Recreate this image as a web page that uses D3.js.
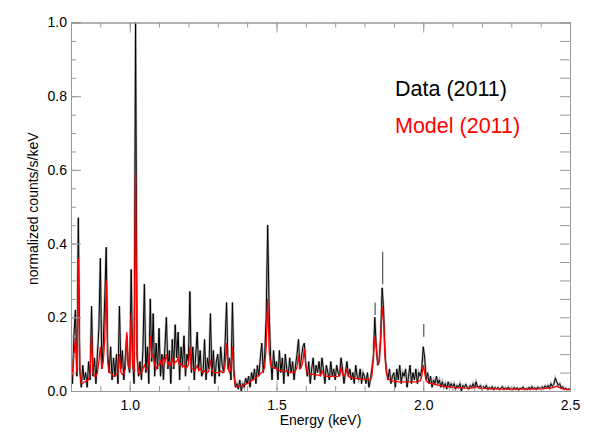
<!DOCTYPE html>
<html>
<head>
<meta charset="utf-8">
<script src="https://cdn.jsdelivr.net/npm/d3@7"></script>
<style>
  body { margin: 0; background: #fff; }
  svg { display: block; font-family: "Liberation Sans", Arial, Helvetica, sans-serif; }
</style>
</head>
<body>
<svg class="stage" width="592" height="437"></svg>
<script>
// spectral bins: 0.800 .. 2.500 keV, 0.005 keV wide
var binStart = 0.8;
var binWidth = 0.005;

// observed spectrum (normalized counts/s/keV), 10 bins per row
var dataValues = [
  0.08, 0.02, 0.15, 0.22, 0.04, 0.47, 0.06, 0.01, 0.07, 0.03,
  0.05, 0.01, 0.08, 0.03, 0.23, 0.04, 0.09, 0.02, 0.10, 0.17,
  0.36, 0.06, 0.13, 0.25, 0.39, 0.10, 0.05, 0.12, 0.03, 0.09,
  0.04, 0.10, 0.02, 0.23, 0.06, 0.11, 0.03, 0.09, 0.15, 0.07,
  0.05, 0.33, 0.08, 0.02, 1.00, 0.10, 0.04, 0.08, 0.03, 0.11,
  0.29, 0.05, 0.12, 0.02, 0.25, 0.08, 0.21, 0.04, 0.13, 0.06,
  0.17, 0.04, 0.10, 0.03, 0.12, 0.20, 0.06, 0.11, 0.02, 0.14,
  0.06, 0.18, 0.09, 0.16, 0.03, 0.12, 0.07, 0.15, 0.04, 0.10,
  0.08, 0.27, 0.05, 0.12, 0.03, 0.10, 0.16, 0.06, 0.11, 0.04,
  0.05, 0.14, 0.03, 0.09, 0.06, 0.21, 0.04, 0.11, 0.02, 0.08,
  0.10, 0.04, 0.12, 0.07, 0.05, 0.13, 0.24, 0.06, 0.09, 0.03,
  0.24, 0.06, 0.01, 0.02, 0.005, 0.03, 0.00, 0.02, 0.01, 0.035,
  0.02, 0.04, 0.01, 0.05, 0.03, 0.06, 0.02, 0.07, 0.04, 0.09,
  0.13, 0.05, 0.10, 0.20, 0.45, 0.22, 0.09, 0.03, 0.11, 0.06,
  0.08, 0.03, 0.11, 0.05, 0.09, 0.02, 0.10, 0.06, 0.04, 0.09,
  0.05, 0.08, 0.03, 0.07, 0.10, 0.14, 0.06, 0.09, 0.12, 0.13,
  0.07, 0.04, 0.08, 0.02, 0.06, 0.09, 0.03, 0.07, 0.05, 0.08,
  0.04, 0.09, 0.06, 0.02, 0.07, 0.05, 0.03, 0.08, 0.04, 0.06,
  0.03, 0.07, 0.05, 0.04, 0.09, 0.06, 0.02, 0.05, 0.08, 0.04,
  0.06, 0.03, 0.05, 0.02, 0.07, 0.04, 0.03, 0.06, 0.02, 0.05,
  0.04, 0.02, 0.05, 0.01, 0.03, 0.06, 0.09, 0.20, 0.12, 0.07,
  0.08, 0.15, 0.28, 0.22, 0.10, 0.05, 0.03, 0.06, 0.02, 0.04,
  0.05, 0.01, 0.06, 0.03, 0.07, 0.02, 0.05, 0.04, 0.06, 0.01,
  0.04, 0.07, 0.02, 0.05, 0.03, 0.06, 0.02, 0.05, 0.04, 0.06,
  0.12, 0.09, 0.03, 0.05, 0.02, 0.04, 0.01, 0.03, 0.02, 0.04,
  0.02, 0.03, 0.01, 0.025, 0.01, 0.02, 0.005, 0.025, 0.01, 0.02,
  0.01, 0.02, 0.005, 0.015, 0.01, 0.02, 0.00, 0.015, 0.01, 0.018,
  0.01, 0.005, 0.015, 0.01, 0.02, 0.008, 0.025, 0.012, 0.01, 0.015,
  0.005, 0.012, 0.008, 0.015, 0.004, 0.01, 0.006, 0.012, 0.003, 0.01,
  0.006, 0.01, 0.003, 0.008, 0.012, 0.004, 0.009, 0.005, 0.011, 0.004,
  0.008, 0.003, 0.01, 0.005, 0.009, 0.002, 0.008, 0.006, 0.011, 0.004,
  0.007, 0.004, 0.01, 0.005, 0.012, 0.006, 0.009, 0.004, 0.011, 0.007,
  0.008, 0.012, 0.006, 0.014, 0.009, 0.015, 0.007, 0.02, 0.012, 0.018,
  0.035, 0.025, 0.015, 0.02, 0.008, 0.012, 0.005, 0.008, 0.004, 0.006,
  0.004
];

// fitted model on the same bins
var modelValues = [
  0.03, 0.05, 0.10, 0.14, 0.05, 0.36, 0.05, 0.02, 0.02, 0.025,
  0.025, 0.03, 0.03, 0.05, 0.15, 0.05, 0.04, 0.04, 0.05, 0.08,
  0.12, 0.06, 0.08, 0.14, 0.30, 0.08, 0.05, 0.05, 0.045, 0.04,
  0.04, 0.045, 0.05, 0.10, 0.05, 0.045, 0.05, 0.06, 0.16, 0.07,
  0.06, 0.21, 0.07, 0.05, 0.59, 0.09, 0.05, 0.045, 0.05, 0.06,
  0.07, 0.06, 0.06, 0.08, 0.15, 0.09, 0.10, 0.07, 0.06, 0.07,
  0.07, 0.08, 0.07, 0.09, 0.08, 0.10, 0.07, 0.08, 0.07, 0.09,
  0.07, 0.08, 0.08, 0.09, 0.07, 0.075, 0.065, 0.07, 0.06, 0.065,
  0.07, 0.12, 0.06, 0.06, 0.055, 0.06, 0.07, 0.055, 0.06, 0.055,
  0.05, 0.055, 0.05, 0.05, 0.055, 0.085, 0.055, 0.05, 0.05, 0.05,
  0.05, 0.05, 0.055, 0.05, 0.05, 0.07, 0.13, 0.06, 0.05, 0.06,
  0.12, 0.04, 0.015, 0.012, 0.012, 0.013, 0.014, 0.015, 0.016, 0.018,
  0.02, 0.022, 0.025, 0.028, 0.03, 0.033, 0.036, 0.04, 0.043, 0.047,
  0.05, 0.055, 0.065, 0.12, 0.25, 0.11, 0.07, 0.065, 0.063, 0.062,
  0.06, 0.058, 0.056, 0.055, 0.056, 0.054, 0.053, 0.055, 0.052, 0.05,
  0.05, 0.05, 0.05, 0.055, 0.065, 0.097, 0.06, 0.065, 0.08, 0.114,
  0.07, 0.05, 0.047, 0.046, 0.045, 0.045, 0.044, 0.044, 0.043, 0.043,
  0.043, 0.055, 0.045, 0.041, 0.04, 0.04, 0.04, 0.039, 0.04, 0.041,
  0.04, 0.039, 0.04, 0.045, 0.066, 0.045, 0.04, 0.045, 0.06, 0.04,
  0.037, 0.036, 0.035, 0.035, 0.034, 0.034, 0.033, 0.033, 0.033, 0.032,
  0.032, 0.031, 0.031, 0.031, 0.031, 0.04, 0.09, 0.147, 0.12, 0.075,
  0.08, 0.14, 0.229, 0.19, 0.09, 0.05, 0.035, 0.03, 0.028, 0.027,
  0.027, 0.026, 0.026, 0.025, 0.025, 0.025, 0.025, 0.025, 0.025, 0.025,
  0.025, 0.025, 0.025, 0.025, 0.025, 0.025, 0.025, 0.026, 0.028, 0.04,
  0.07, 0.05, 0.028, 0.024, 0.022, 0.021, 0.02, 0.019, 0.018, 0.017,
  0.016, 0.015, 0.014, 0.013, 0.013, 0.012, 0.012, 0.011, 0.011, 0.01,
  0.01, 0.01, 0.009, 0.009, 0.009, 0.009, 0.009, 0.008, 0.008, 0.008,
  0.008, 0.008, 0.008, 0.008, 0.009, 0.01, 0.013, 0.01, 0.008, 0.007,
  0.007, 0.007, 0.007, 0.007, 0.006, 0.006, 0.006, 0.006, 0.006, 0.006,
  0.006, 0.006, 0.005, 0.005, 0.005, 0.005, 0.005, 0.005, 0.005, 0.005,
  0.005, 0.005, 0.005, 0.005, 0.005, 0.005, 0.005, 0.005, 0.005, 0.005,
  0.005, 0.005, 0.005, 0.005, 0.005, 0.005, 0.006, 0.006, 0.006, 0.006,
  0.006, 0.006, 0.007, 0.007, 0.007, 0.008, 0.008, 0.008, 0.009, 0.01,
  0.012, 0.013, 0.011, 0.009, 0.007, 0.006, 0.005, 0.005, 0.004, 0.004,
  0.004
];

// error bar tops that stand apart from the data line: [keV, low, high]
var errorDashes = [
  [1.836, 0.206, 0.240],
  [1.862, 0.290, 0.378],
  [2.002, 0.147, 0.182]
];

var xMajorTicks = [1.0, 1.5, 2.0, 2.5];
var yMajorTicks = [0.0, 0.2, 0.4, 0.6, 0.8, 1.0];
var legendLabels = ['Data (2011)', 'Model (2011)'];
var legendColors = ['#000', '#f00'];

var svg = d3.select('svg.stage');
var margin = { left: 71, right: 22, top: 22.5, bottom: 46 };
var width = +svg.attr('width');
var height = +svg.attr('height');
var innerW = width - margin.left - margin.right;
var innerH = height - margin.top - margin.bottom;

var x = d3.scaleLinear().domain([0.8, 2.5]).range([0, innerW]);
var y = d3.scaleLinear().domain([0, 1]).range([innerH, 0]);

function energyOf(i) {
  return binStart + binWidth * i;
}

svg.append('rect')
  .attr('width', width)
  .attr('height', height)
  .attr('fill', '#fff');

var g = svg.append('g')
  .attr('transform', 'translate(' + margin.left + ',' + margin.top + ')');

g.append('clipPath')
  .attr('id', 'plotClip')
  .append('rect')
  .attr('x', 0)
  .attr('y', -1)
  .attr('width', innerW)
  .attr('height', innerH + 1);

var plot = g.append('g').attr('clip-path', 'url(#plotClip)');

var line = d3.line()
  .x(function (d, i) { return x(energyOf(i)); })
  .y(function (d) { return y(d); });

// data: grey halo (error bar look) then black line
plot.append('path')
  .datum(dataValues)
  .attr('fill', 'none')
  .attr('stroke', '#888')
  .attr('stroke-width', 2.4)
  .attr('stroke-opacity', 0.6)
  .attr('d', line);

plot.append('path')
  .datum(dataValues)
  .attr('fill', 'none')
  .attr('stroke', '#000')
  .attr('stroke-width', 1)
  .attr('d', line);

plot.selectAll('line.dash')
  .data(errorDashes)
  .enter().append('line')
  .attr('class', 'dash')
  .attr('x1', function (d) { return x(d[0]); })
  .attr('x2', function (d) { return x(d[0]); })
  .attr('y1', function (d) { return y(d[1]); })
  .attr('y2', function (d) { return y(d[2]); })
  .attr('stroke', '#333')
  .attr('stroke-width', 1);

plot.append('path')
  .datum(modelValues)
  .attr('fill', 'none')
  .attr('stroke', '#f00')
  .attr('stroke-width', 1.3)
  .attr('d', line);

// axes, ticks pointing inwards
var axisColor = '#999';
var xMinor = d3.range(0.8, 2.5001, 0.1);
var yMinor = d3.range(0, 1.0001, 0.05);

function styleAxis(sel) {
  sel.select('.domain').attr('stroke', axisColor);
  sel.selectAll('.tick line').attr('stroke', axisColor);
  sel.selectAll('.tick text')
    .attr('fill', '#000')
    .style('font-size', '14px')
    .style('font-family', '"Liberation Sans", Arial, sans-serif');
}

g.append('g')
  .attr('transform', 'translate(0,' + innerH + ')')
  .call(d3.axisBottom(x).tickValues(xMinor).tickSize(-5).tickFormat(''))
  .call(styleAxis);

g.append('g')
  .attr('transform', 'translate(0,' + innerH + ')')
  .call(d3.axisBottom(x).tickValues(xMajorTicks).tickSize(-10).tickPadding(9).tickFormat(d3.format('.1f')))
  .call(styleAxis);

g.append('g')
  .call(d3.axisTop(x).tickValues(xMinor).tickSize(-5).tickFormat(''))
  .call(styleAxis);

g.append('g')
  .call(d3.axisTop(x).tickValues(xMajorTicks).tickSize(-10).tickFormat(''))
  .call(styleAxis);

g.append('g')
  .call(d3.axisLeft(y).tickValues(yMinor).tickSize(-5).tickFormat(''))
  .call(styleAxis);

g.append('g')
  .call(d3.axisLeft(y).tickValues(yMajorTicks).tickSize(-10).tickPadding(4).tickFormat(d3.format('.1f')))
  .call(styleAxis);

g.append('g')
  .attr('transform', 'translate(' + innerW + ',0)')
  .call(d3.axisRight(y).tickValues(yMinor).tickSize(-10).tickFormat(''))
  .call(styleAxis);

// axis titles
g.append('text')
  .attr('x', x(1.65))
  .attr('y', innerH + 34)
  .attr('text-anchor', 'middle')
  .style('font-size', '14px')
  .text('Energy (keV)');

g.append('text')
  .attr('transform', 'translate(' + (-33) + ',' + (innerH / 2 + 2) + ') rotate(-90)')
  .attr('text-anchor', 'middle')
  .style('font-size', '14px')
  .text('normalized counts/s/keV');

// legend
var legend = g.append('g')
  .attr('transform', 'translate(' + (395 - margin.left) + ',' + (96 - margin.top) + ')');

legend.selectAll('text')
  .data(legendLabels)
  .enter().append('text')
  .attr('x', 0)
  .attr('y', function (d, i) { return i * 37; })
  .attr('fill', function (d, i) { return legendColors[i]; })
  .style('font-size', '21.5px')
  .text(function (d) { return d; });
</script>
</body>
</html>
